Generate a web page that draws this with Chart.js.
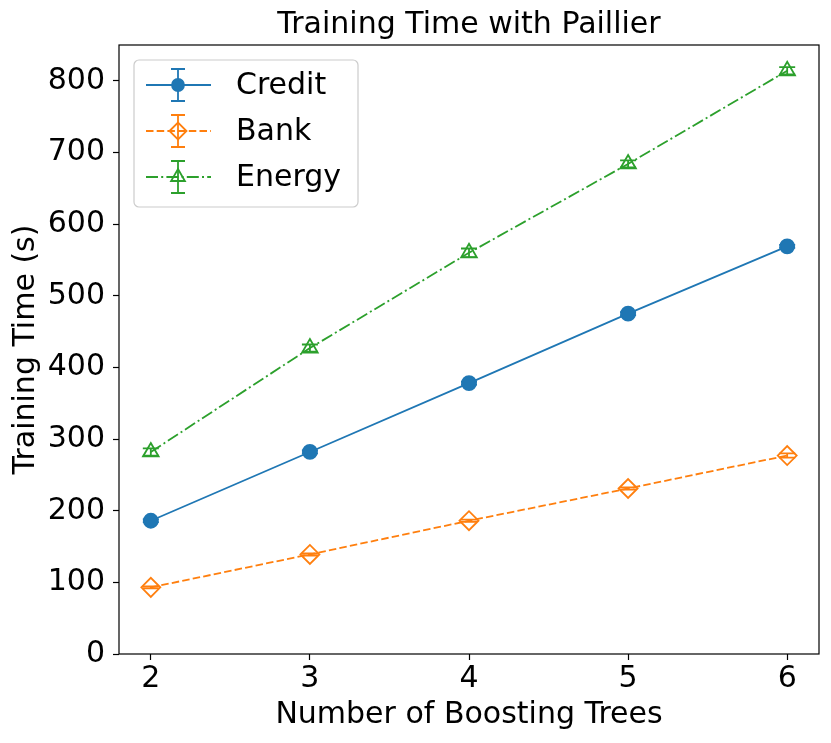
<!DOCTYPE html>
<html>
<head>
<meta charset="utf-8">
<script src="https://cdn.jsdelivr.net/npm/chart.js@4.4.1/dist/chart.umd.min.js"></script>
<style>
  html, body { margin: 0; padding: 0; background: #fff; overflow: hidden; }
  canvas { display: block; }
</style>
</head>
<body>
<canvas id="grafico" width="831" height="743"></canvas>
<script>
// datos
const trees = [2, 3, 4, 5, 6];
const credit = [186, 282, 378, 475, 569];
const bank = [93, 139, 186, 231, 277];
const energy = [282, 427, 560, 684, 814];
const creditErr = [2, 2, 2, 2, 2];
const bankErr = [1.5, 1.5, 1.5, 1.5, 3];
const energyErr = [5, 5, 6, 5, 5];
const xTicks = [2, 3, 4, 5, 6];
const yTicks = [0, 100, 200, 300, 400, 500, 600, 700, 800];
const titulo = 'Training Time with Paillier';

const FONT = 'DejaVu Sans';

const series = [
    { label: 'Credit', data: credit, err: creditErr, color: '#1f77b4', dash: [], style: 'circle', radius: 7, fill: true },
    { label: 'Bank', data: bank, err: bankErr, color: '#ff7f0e', dash: [7.5, 3.2], style: 'rectRot', radius: 9.5, fill: false },
    { label: 'Energy', data: energy, err: energyErr, color: '#2ca02c', dash: [12, 3.2, 2, 3.2], style: 'triangle', radius: 9, fill: false }
];

// barras de error, dibujadas con las escalas
const errorBars = {
    id: 'errorBars',
    beforeDatasetsDraw(chart) {
        const ctx = chart.ctx;
        const xs = chart.scales.x, ys = chart.scales.y;
        ctx.save();
        chart.data.datasets.forEach(ds => {
            ctx.strokeStyle = ds.borderColor;
            ctx.lineWidth = 1.8;
            ds.data.forEach((p, i) => {
                const x = xs.getPixelForValue(p.x);
                const y1 = ys.getPixelForValue(p.y - ds.errData[i]);
                const y2 = ys.getPixelForValue(p.y + ds.errData[i]);
                ctx.beginPath();
                ctx.moveTo(x, y1); ctx.lineTo(x, y2);
                ctx.moveTo(x - 8, y1); ctx.lineTo(x + 8, y1);
                ctx.moveTo(x - 8, y2); ctx.lineTo(x + 8, y2);
                ctx.stroke();
            });
        });
        ctx.restore();
    }
};

// marco, titulo centrado sobre los ejes y leyenda estilo matplotlib
const frameLegend = {
    id: 'frameLegend',
    afterDraw(chart) {
        const ctx = chart.ctx;
        const a = chart.chartArea;
        ctx.save();
        ctx.strokeStyle = '#000';
        ctx.lineWidth = 1.2;
        ctx.strokeRect(a.left, a.top, a.right - a.left, a.bottom - a.top);

        ctx.fillStyle = '#000';
        ctx.font = '30px "' + FONT + '"';
        ctx.textAlign = 'center';
        ctx.textBaseline = 'alphabetic';
        ctx.fillText(titulo, (a.left + a.right) / 2, 33);

        const bx = a.left + 15, by = a.top + 15, bw = 224, bh = 147;
        ctx.beginPath();
        ctx.roundRect(bx, by, bw, bh, 5);
        ctx.fillStyle = 'rgba(255,255,255,0.8)';
        ctx.fill();
        ctx.strokeStyle = '#cccccc';
        ctx.lineWidth = 1.2;
        ctx.stroke();

        series.forEach((s, i) => {
            const y = by + 25 + i * 46;
            const mx = bx + 44;
            ctx.strokeStyle = s.color;
            ctx.lineWidth = 1.8;
            ctx.setLineDash(s.dash);
            ctx.beginPath();
            ctx.moveTo(bx + 12, y); ctx.lineTo(bx + 77, y);
            ctx.stroke();
            ctx.setLineDash([]);
            ctx.beginPath();
            ctx.moveTo(mx, y - 16); ctx.lineTo(mx, y + 16);
            ctx.moveTo(mx - 7, y - 16); ctx.lineTo(mx + 7, y - 16);
            ctx.moveTo(mx - 7, y + 16); ctx.lineTo(mx + 7, y + 16);
            ctx.stroke();
            ctx.fillStyle = s.fill ? s.color : 'rgba(0,0,0,0)';
            ctx.lineWidth = 1.8;
            Chart.helpers.drawPoint(ctx, { pointStyle: s.style, radius: s.radius - 1, borderWidth: 1.8 }, mx, y);
            ctx.fillStyle = '#000';
            ctx.font = '30px "' + FONT + '"';
            ctx.textAlign = 'left';
            ctx.textBaseline = 'middle';
            ctx.fillText(s.label, bx + 102, y + 1);
        });
        ctx.restore();
    }
};

const ctx = document.getElementById('grafico').getContext('2d');
new Chart(ctx, {
    type: 'line',
    data: {
        datasets: series.map(s => ({
            label: s.label,
            data: trees.map((t, i) => ({ x: t, y: s.data[i] })),
            errData: s.err,
            borderColor: s.color,
            backgroundColor: s.fill ? s.color : 'rgba(0,0,0,0)',
            pointBackgroundColor: s.fill ? s.color : 'rgba(0,0,0,0)',
            pointBorderColor: s.color,
            pointStyle: s.style,
            pointRadius: s.radius,
            pointBorderWidth: 1.8,
            borderWidth: 1.8,
            borderDash: s.dash,
            fill: false,
            tension: 0
        }))
    },
    options: {
        responsive: false,
        animation: false,
        devicePixelRatio: 1,
        layout: { padding: { left: 0, right: 12, top: 45, bottom: 0 } },
        plugins: {
            legend: { display: false },
            tooltip: { enabled: false },
            title: { display: false }
        },
        scales: {
            x: {
                type: 'linear',
                min: 1.8,
                max: 6.2,
                afterBuildTicks: axis => { axis.ticks = xTicks.map(v => ({ value: v })); },
                afterFit: axis => { axis.height = 89; },
                border: { display: false },
                grid: { drawOnChartArea: false, drawTicks: true, tickLength: 6, tickWidth: 1.2, tickColor: '#000' },
                ticks: { color: '#000', padding: 4, maxRotation: 0, font: { family: FONT, size: 30, lineHeight: 1 } },
                title: {
                    display: true,
                    text: 'Number of Boosting Trees',
                    color: '#000',
                    font: { family: FONT, size: 30, lineHeight: 1.2 },
                    padding: { top: 0, bottom: 10 }
                }
            },
            y: {
                min: 0,
                max: 850,
                afterBuildTicks: axis => { axis.ticks = yTicks.map(v => ({ value: v })); },
                afterFit: axis => { axis.width = 119; },
                border: { display: false },
                grid: { drawOnChartArea: false, drawTicks: true, tickLength: 6, tickWidth: 1.2, tickColor: '#000' },
                ticks: { color: '#000', padding: 8, font: { family: FONT, size: 30, lineHeight: 1 } },
                title: {
                    display: true,
                    text: 'Training Time (s)',
                    color: '#000',
                    font: { family: FONT, size: 30, lineHeight: 1.2 },
                    padding: { top: 8, bottom: 0 }
                }
            }
        }
    },
    plugins: [errorBars, frameLegend]
});
</script>
</body>
</html>
